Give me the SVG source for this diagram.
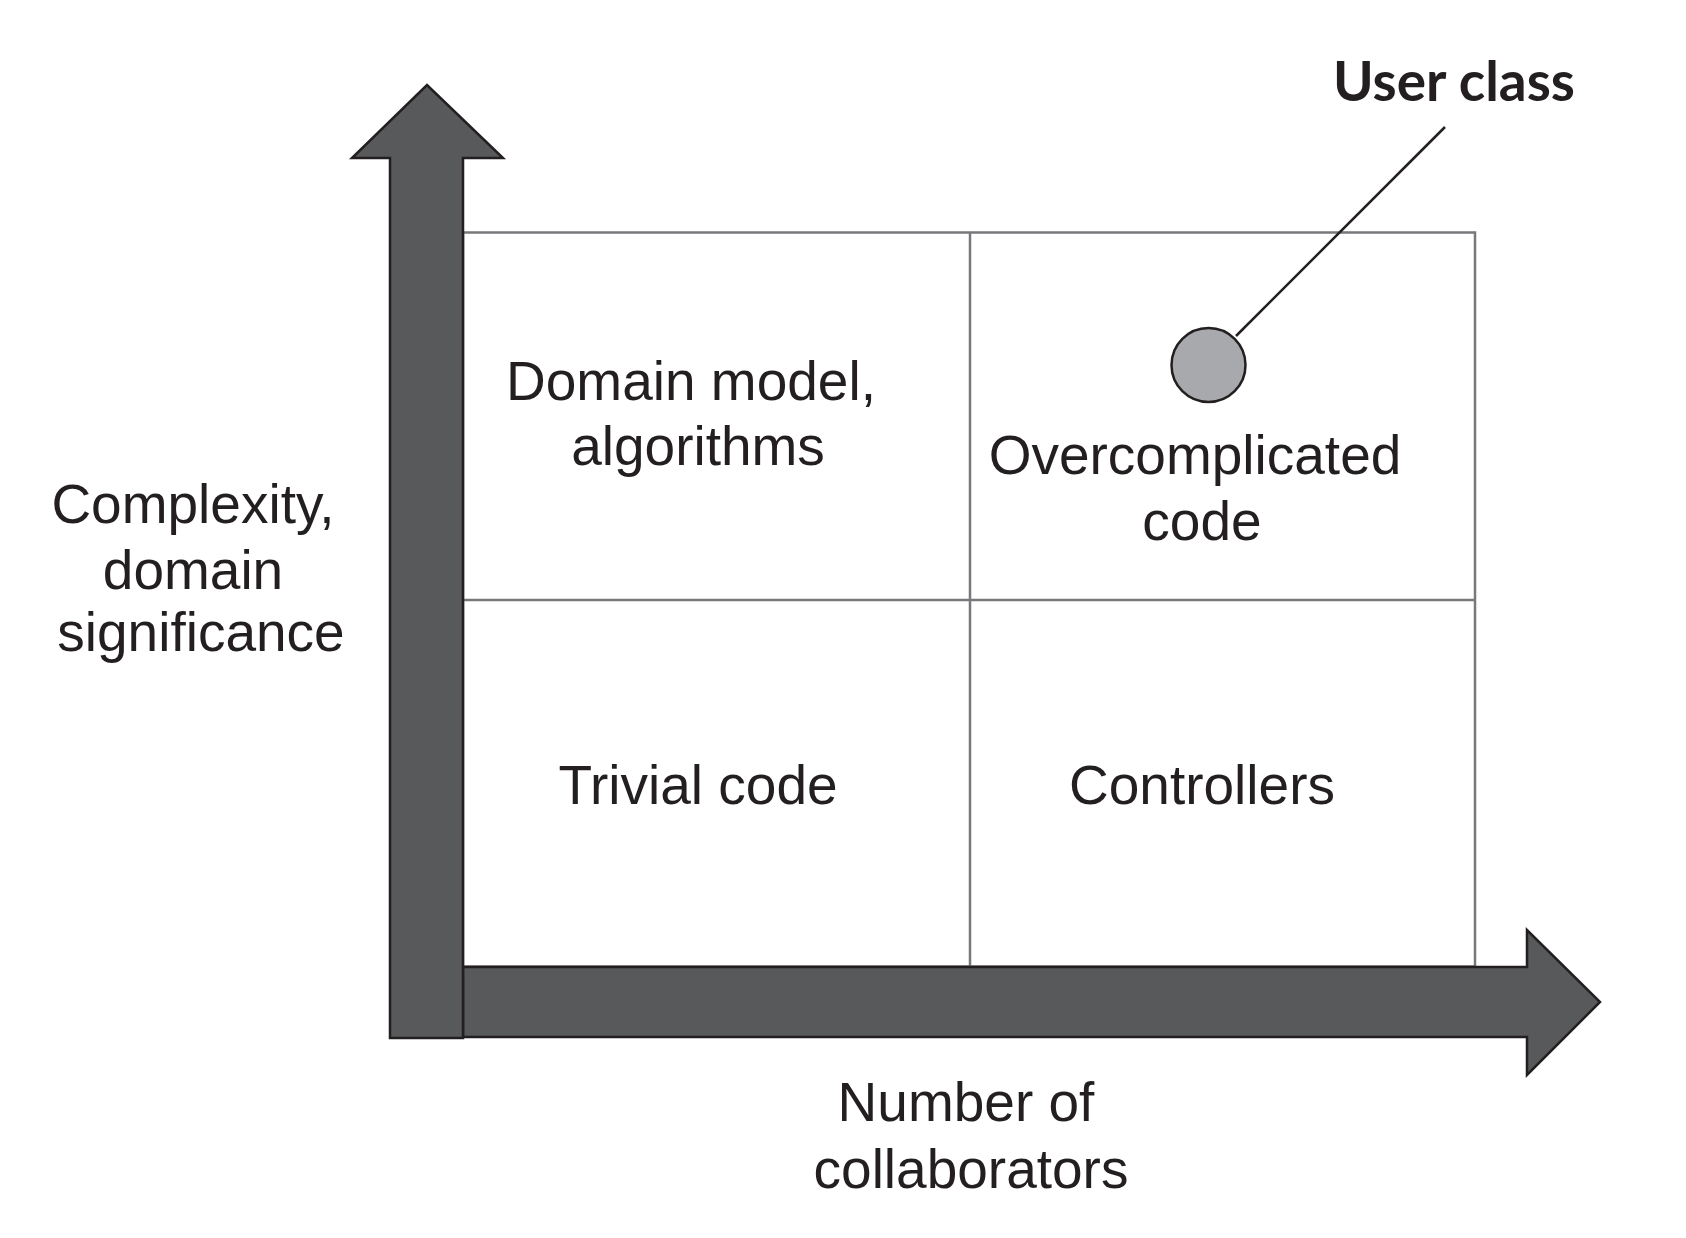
<svg xmlns="http://www.w3.org/2000/svg" width="1686" height="1238" viewBox="0 0 1686 1238">
<style>
.lbl{font-family:"Liberation Sans",Arial,sans-serif;font-size:55px;fill:#231f20;text-anchor:middle}
.ttl{font-family:Lato,"Open Sans",sans-serif;font-weight:bold;font-size:56px;fill:#231f20}
.arrow{fill:#58595b;stroke:#231f20;stroke-width:2.5;stroke-linejoin:miter}
.grid{fill:none;stroke:#77787b;stroke-width:2.5}
</style>
<rect width="1686" height="1238" fill="#ffffff"/>
<g id="grid">
<rect class="grid" x="463" y="232.5" width="1012" height="734"/>
<line class="grid" x1="970" y1="232.5" x2="970" y2="966"/>
<line class="grid" x1="463" y1="600" x2="1475" y2="600"/>
</g>
<g id="x-axis">
<polygon class="arrow" points="463,967 1527,967 1527,930 1600,1002 1527,1075 1527,1037 463,1037"/>
</g>
<g id="y-axis">
<polygon class="arrow" points="390,1038 390,158 352,158 427,85 503,158 463,158 463,1038"/>
</g>
<g id="quadrant-tl">
<text class="lbl" x="691" y="400">Domain model,</text>
<text class="lbl" x="698" y="465">algorithms</text>
</g>
<g id="quadrant-tr">
<text class="lbl" x="1195" y="474">Overcomplicated</text>
<text class="lbl" x="1202" y="540">code</text>
</g>
<g id="quadrant-bl">
<text class="lbl" x="698" y="804">Trivial code</text>
</g>
<g id="quadrant-br">
<text class="lbl" x="1202" y="804">Controllers</text>
</g>
<g id="y-label">
<text class="lbl" x="193" y="523">Complexity,</text>
<text class="lbl" x="193" y="589">domain</text>
<text class="lbl" x="201" y="651">significance</text>
</g>
<g id="x-label">
<text class="lbl" x="966" y="1121">Number of</text>
<text class="lbl" x="971" y="1188">collaborators</text>
</g>
<g id="connectors">
<line x1="1445" y1="127" x2="1236" y2="336" stroke="#231f20" stroke-width="2.5"/>
</g>
<g id="user-class">
<circle cx="1208.5" cy="365" r="37" fill="#a7a9ac" stroke="#231f20" stroke-width="2.5"/>
<text class="ttl" x="1333" y="101" textLength="242" lengthAdjust="spacingAndGlyphs">User class</text>
</g>
</svg>
